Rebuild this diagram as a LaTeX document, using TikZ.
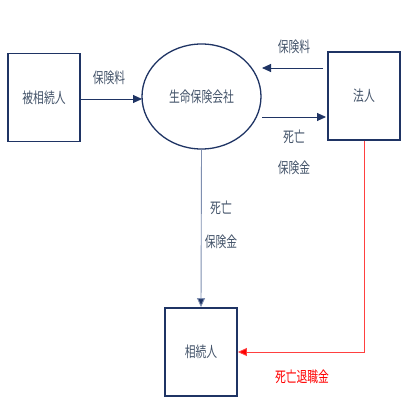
\documentclass[tikz,border=0pt]{standalone}
\usepackage{fontspec}
\newfontfamily\jp[FakeStretch=0.72]{Noto Sans CJK JP}
\usetikzlibrary{arrows.meta,shapes.geometric}
\definecolor{navy}{HTML}{1F3464}
\definecolor{txt}{HTML}{44546A}
\definecolor{lblue}{HTML}{7F8FB0}
\begin{document}
\begin{tikzpicture}[x=1pt,y=-1pt,
  box/.style={draw=navy,line width=1.8pt,minimum width=72pt,minimum height=88pt,inner sep=0pt,font=\jp\fontsize{15}{17}\selectfont,text=txt},
  lab/.style={font=\jp\fontsize{15}{17}\selectfont,text=txt,inner sep=0pt},
  arr/.style={draw=navy,line width=0.9pt,-{Triangle[length=9pt,width=8pt]}}]
\useasboundingbox[fill=white] (0,0) rectangle (414,414);
\node[box] (hi) at (44,97.5) {被相続人};
\node[draw=navy,line width=1.3pt,ellipse,minimum width=119pt,minimum height=105pt,inner sep=0pt,font=\jp\fontsize{15}{17}\selectfont,text=txt] (co) at (201.5,96.5) {生命保険会社};
\node[box] (ho) at (364,96) {法人};
\node[box] (so) at (201,352) {相続人};
\coordinate (a1) at (80,99);
\coordinate (a2) at (142,99);
\draw[arr] (hi.east |- a1) -- (a2);
\node[lab] (l1) at (109,78) {保険料};
\coordinate (b1) at (323,68);
\coordinate (b2) at (262,68);
\draw[arr] (b1) -- (b2);
\node[lab] (l2) at (294,47) {保険料};
\coordinate (c1) at (262,117);
\coordinate (c2) at (326,117);
\draw[arr] (c1) -- (c2);
\node[lab] (l3) at (294,137) {死亡};
\node[lab] (l4) at (294,168) {保険金};
\draw[draw=lblue,line width=0.9pt,-{Triangle[length=9pt,width=8pt,fill=navy]}] (co.south) -- (so.north);
\node[lab] (l5) at (221,208) {死亡};
\node[lab] (l6) at (221,242) {保険金};
\coordinate (r1) at (364,352);
\draw[draw=red!75,line width=0.9pt,-{Triangle[length=9pt,width=8pt,fill=red]}] (ho.south) -- (r1) -- (so.east);
\node[lab,text=red] (l7) at (302,377) {死亡退職金};
\end{tikzpicture}
\end{document}
